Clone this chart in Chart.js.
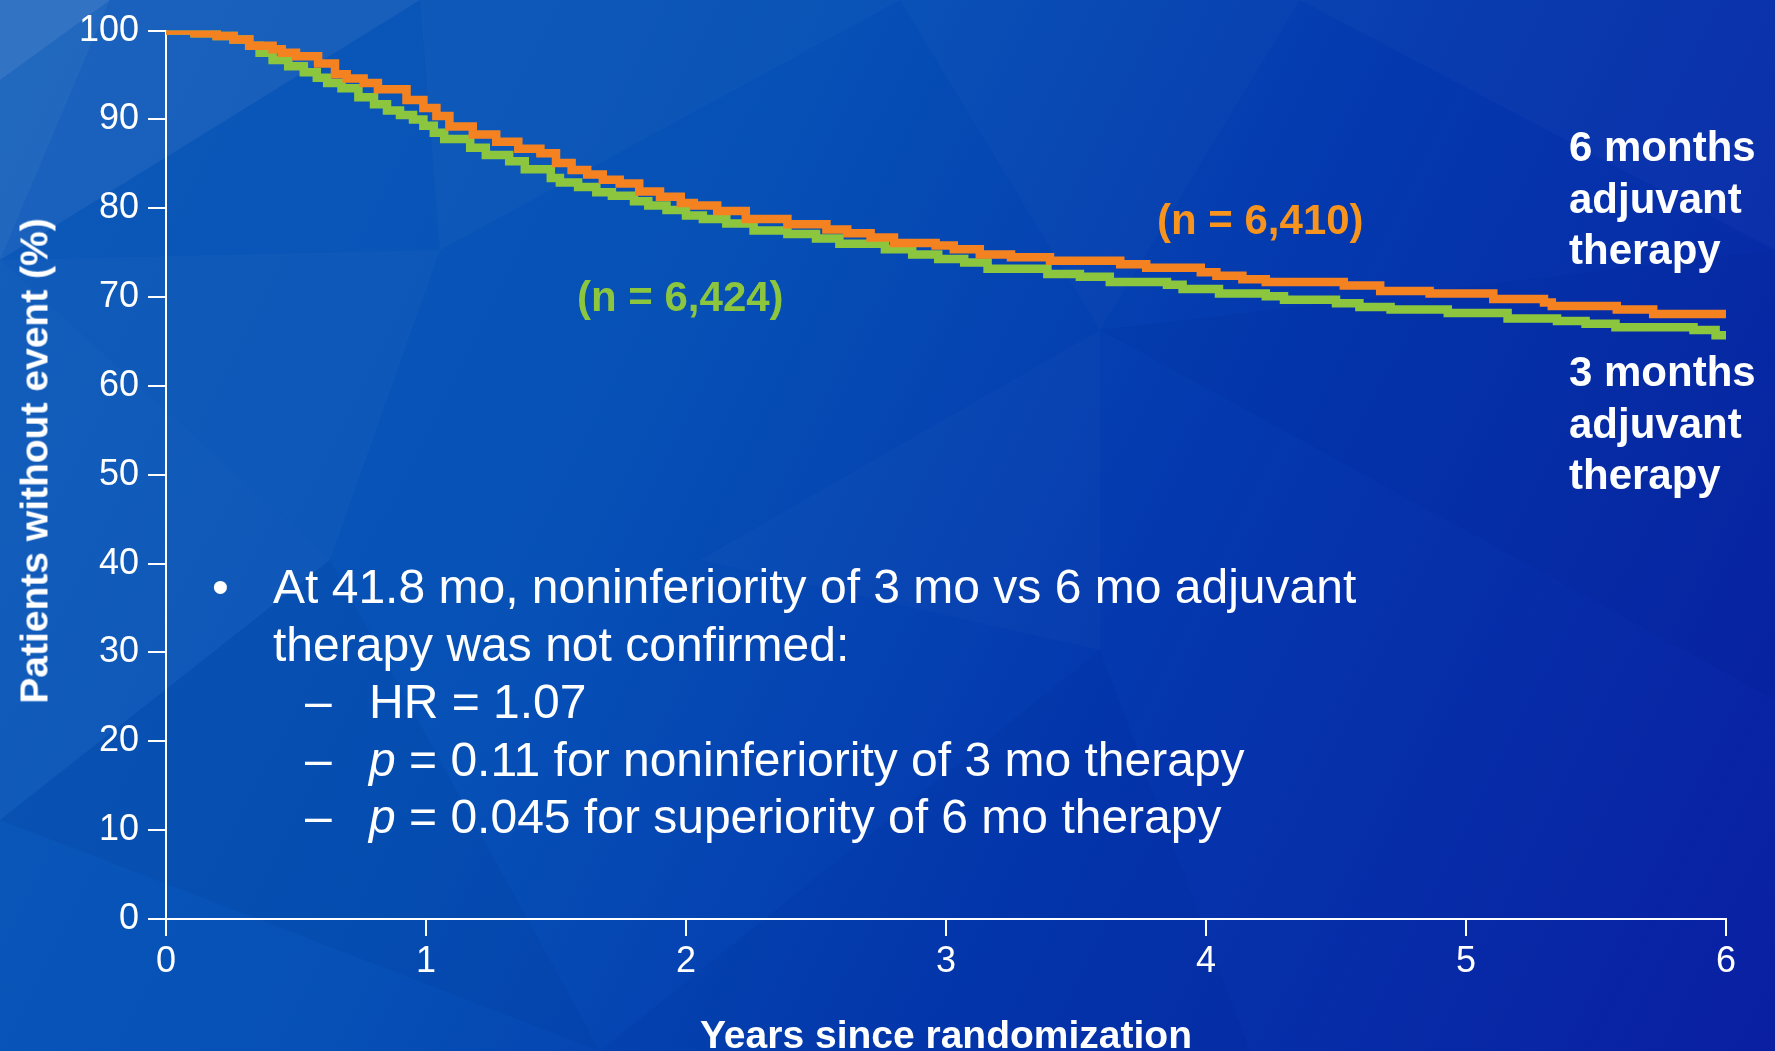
<!DOCTYPE html>
<html>
<head>
<meta charset="utf-8">
<title>Disease-free survival: 3 vs 6 months adjuvant therapy</title>
<script src="https://cdn.jsdelivr.net/npm/chart.js@4/dist/chart.umd.min.js"></script>
<style>
  html, body { margin: 0; padding: 0; background: #0a3fb2; }
  #wrap { position: relative; width: 1775px; height: 1051px; overflow: hidden; font-family: "Liberation Sans", Arial, sans-serif; }
  #chart { position: absolute; left: 0; top: 0; }
  .lbl { position: absolute; white-space: nowrap; font-weight: bold; font-size: 42px; line-height: 1; }
  .arm { position: absolute; white-space: nowrap; font-weight: bold; font-size: 42px; line-height: 51.5px; color: #ffffff; left: 1569px; }
  .txt { position: absolute; white-space: nowrap; font-size: 48px; line-height: 57.5px; color: #ffffff; }
  .txt i { font-style: italic; }
  .ytitle { position: absolute; white-space: nowrap; font-weight: bold; font-size: 39px; line-height: 1; color: #ffffff;
            left: 34px; top: 461px; transform: translate(-50%, -50%) rotate(-90deg); }
</style>
</head>
<body>
<div id="wrap">
  <canvas id="chart" width="1775" height="1051"></canvas>

  <div class="ytitle">Patients without event (%)</div>

  <div class="lbl" style="left:577px; top:276px; color:#8CC63F;">(n = 6,424)</div>
  <div class="lbl" style="left:1157px; top:199px; color:#F7941D;">(n = 6,410)</div>

  <div class="arm" style="top:121px;">6 months<br>adjuvant<br>therapy</div>
  <div class="arm" style="top:346px;">3 months<br>adjuvant<br>therapy</div>

  <div class="txt" style="left:212px; top:558px;">•</div>
  <div class="txt" style="left:273px; top:558px;">At 41.8 mo, noninferiority of 3 mo vs 6 mo adjuvant</div>
  <div class="txt" style="left:273px; top:615.5px;">therapy was not confirmed:</div>
  <div class="txt" style="left:305px; top:673px;">–</div>
  <div class="txt" style="left:369px; top:673px;">HR = 1.07</div>
  <div class="txt" style="left:305px; top:730.5px;">–</div>
  <div class="txt" style="left:369px; top:730.5px;"><i>p</i> = 0.11 for noninferiority of 3 mo therapy</div>
  <div class="txt" style="left:305px; top:788px;">–</div>
  <div class="txt" style="left:369px; top:788px;"><i>p</i> = 0.045 for superiority of 6 mo therapy</div>
</div>

<script>
// Kaplan-Meier step data: plateau start (years) and percent without event
const years6 = [0, 0.11, 0.195, 0.26, 0.32, 0.41, 0.445, 0.50, 0.585, 0.65, 0.695, 0.76, 0.815, 0.925, 0.99,
  1.04, 1.09, 1.18, 1.27, 1.355, 1.44, 1.50, 1.56, 1.62, 1.68, 1.745, 1.82, 1.90, 1.98, 2.03, 2.12, 2.23,
  2.39, 2.54, 2.62, 2.71, 2.80, 2.96, 3.03, 3.13, 3.25, 3.40, 3.67, 3.77, 3.98, 4.04, 4.14, 4.23, 4.53,
  4.67, 4.86, 5.105, 5.30, 5.33, 5.58, 5.72, 6.0];
const surv6 = [100, 99.7, 99.4, 99.0, 98.3, 97.9, 97.5, 97.1, 96.3, 95.1, 94.6, 94.1, 93.4, 92.2, 91.3,
  90.4, 89.2, 88.3, 87.5, 86.7, 86.2, 85.1, 84.3, 83.8, 83.2, 82.8, 81.9, 81.3, 80.6, 80.3, 79.7, 78.8,
  78.2, 77.6, 77.2, 76.7, 76.1, 75.8, 75.4, 74.8, 74.5, 74.1, 73.7, 73.3, 72.8, 72.4, 72.0, 71.7, 71.3,
  70.7, 70.4, 69.8, 69.4, 69.0, 68.6, 68.1, 68.1];

const years3 = [0, 0.11, 0.195, 0.26, 0.32, 0.36, 0.41, 0.47, 0.53, 0.58, 0.62, 0.675, 0.74, 0.80, 0.85,
  0.90, 0.95, 0.99, 1.03, 1.07, 1.17, 1.23, 1.32, 1.38, 1.48, 1.515, 1.585, 1.655, 1.715, 1.80, 1.855,
  1.925, 2.00, 2.065, 2.155, 2.26, 2.39, 2.50, 2.59, 2.765, 2.87, 2.97, 3.07, 3.16, 3.39, 3.515, 3.63,
  3.85, 3.91, 4.05, 4.23, 4.30, 4.50, 4.59, 4.71, 4.93, 5.16, 5.35, 5.46, 5.575, 5.875, 5.96, 6.0];
const surv3 = [100, 99.7, 99.4, 99.0, 98.3, 97.5, 96.7, 96.0, 95.3, 94.7, 94.1, 93.5, 92.5, 91.7, 91.0,
  90.5, 90.0, 89.3, 88.5, 87.8, 86.8, 86.0, 85.3, 84.4, 83.4, 82.9, 82.4, 81.8, 81.4, 80.8, 80.3,
  79.8, 79.2, 78.8, 78.3, 77.5, 77.1, 76.6, 76.0, 75.4, 74.8, 74.3, 73.9, 73.2, 72.6, 72.3, 71.7,
  71.4, 70.9, 70.4, 70.1, 69.7, 69.3, 68.9, 68.6, 68.2, 67.6, 67.3, 67.0, 66.6, 66.3, 65.7, 65.7];

const xTicks = [0, 1, 2, 3, 4, 5, 6];
const yTicks = [0, 10, 20, 30, 40, 50, 60, 70, 80, 90, 100];

const FONT = '"Liberation Sans", Arial, sans-serif';
const toPoints = (xs, ys) => xs.map((x, i) => ({ x: x, y: ys[i] }));

// Faceted blue backdrop painted on the canvas before the chart
const backdrop = {
  id: 'backdrop',
  beforeDraw(chart) {
    const c = chart.ctx, W = chart.width, H = chart.height;
    c.save();
    const g = c.createLinearGradient(0, 150, W, H);
    g.addColorStop(0, '#0c59b9');
    g.addColorStop(0.35, '#0650b6');
    g.addColorStop(0.62, '#0438ae');
    g.addColorStop(1, '#0a1fa2');
    c.fillStyle = g;
    c.fillRect(0, 0, W, H);
    const facets = [
      [[0, 0], [110, 0], [0, 80], 'rgba(255,255,255,0.16)'],
      [[110, 0], [420, 0], [0, 260], 'rgba(255,255,255,0.06)'],
      [[0, 80], [0, 260], [110, 0], 'rgba(255,255,255,0.09)'],
      [[0, 260], [440, 250], [330, 560], 'rgba(255,255,255,0.025)'],
      [[0, 260], [330, 560], [0, 820], 'rgba(255,255,255,0.03)'],
      [[420, 0], [900, 0], [440, 250], 'rgba(255,255,255,0.025)'],
      [[900, 0], [1300, 0], [1100, 330], 'rgba(255,255,255,0.02)'],
      [[0, 820], [330, 560], [600, 1051], 'rgba(0,0,60,0.04)'],
      [[1100, 330], [1775, 250], [1775, 700], 'rgba(0,0,80,0.04)'],
      [[1300, 0], [1775, 0], [1775, 250], 'rgba(255,255,255,0.025)'],
      [[600, 1051], [1100, 650], [1250, 1051], 'rgba(0,0,70,0.04)'],
      [[700, 560], [1100, 330], [1100, 650], 'rgba(255,255,255,0.02)']
    ];
    facets.forEach(f => {
      c.beginPath();
      c.moveTo(f[0][0], f[0][1]);
      c.lineTo(f[1][0], f[1][1]);
      c.lineTo(f[2][0], f[2][1]);
      c.closePath();
      c.fillStyle = f[3];
      c.fill();
    });
    c.restore();
  }
};

new Chart(document.getElementById('chart'), {
  type: 'line',
  data: {
    datasets: [
      {
        label: '6 months adjuvant therapy',
        data: toPoints(years6, surv6),
        borderColor: '#F58220',
        borderWidth: 8.5,
        stepped: true,
        pointRadius: 0,
        fill: false,
        borderCapStyle: 'butt',
        borderJoinStyle: 'miter'
      },
      {
        label: '3 months adjuvant therapy',
        data: toPoints(years3, surv3),
        borderColor: '#8CC63F',
        borderWidth: 8.5,
        stepped: true,
        pointRadius: 0,
        fill: false,
        borderCapStyle: 'butt',
        borderJoinStyle: 'miter'
      }
    ]
  },
  options: {
    responsive: false,
    animation: false,
    devicePixelRatio: 1,
    layout: { padding: { left: 0, right: 49, top: 26, bottom: 0 } },
    plugins: { legend: { display: false }, tooltip: { enabled: false } },
    scales: {
      x: {
        type: 'linear',
        min: 0,
        max: 6,
        afterBuildTicks: s => { s.ticks = xTicks.map(v => ({ value: v })); },
        afterFit: s => { s.height = 132; },
        grid: { drawOnChartArea: false, drawTicks: true, tickLength: 17, color: '#ffffff', lineWidth: 2 },
        border: { display: true, color: '#ffffff', width: 2 },
        ticks: { color: '#ffffff', font: { family: FONT, size: 36 }, padding: 4, maxRotation: 0 },
        title: {
          display: true,
          text: 'Years since randomization',
          color: '#ffffff',
          font: { family: FONT, size: 39, weight: 'bold', lineHeight: 0.7 },
          padding: { top: 0, bottom: 0 }
        }
      },
      y: {
        type: 'linear',
        min: 0,
        max: 100,
        afterBuildTicks: s => { s.ticks = yTicks.map(v => ({ value: v })); },
        afterFit: s => { s.width = 166; },
        grid: { drawOnChartArea: false, drawTicks: true, tickLength: 18, color: '#ffffff', lineWidth: 2 },
        border: { display: true, color: '#ffffff', width: 2 },
        ticks: { color: '#ffffff', font: { family: FONT, size: 36 }, padding: 9 },
        title: { display: false }
      }
    }
  },
  plugins: [backdrop]
});
</script>
</body>
</html>
